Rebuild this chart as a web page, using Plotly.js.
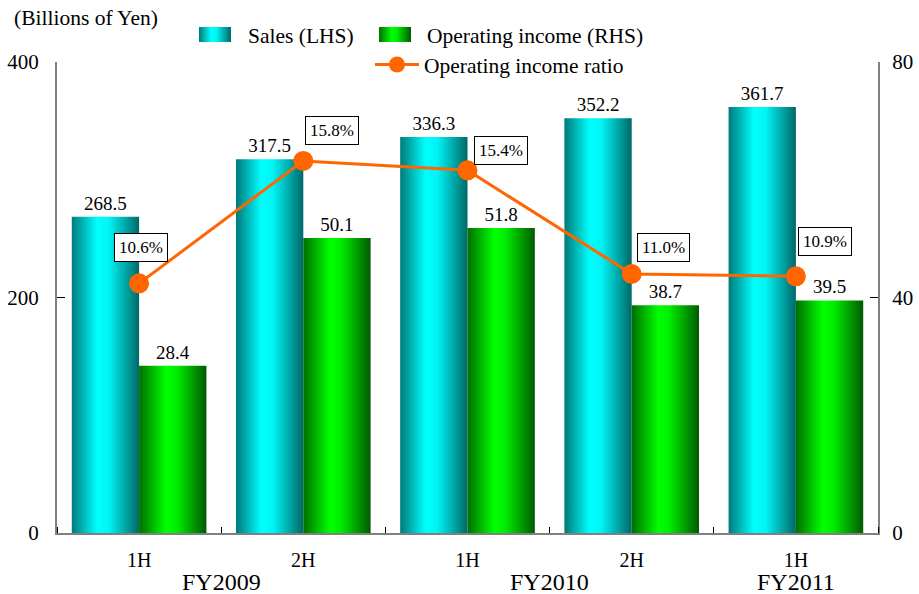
<!DOCTYPE html>
<html>
<head>
<meta charset="utf-8">
<script src="https://cdn.plot.ly/plotly-3.0.1.min.js"></script>
<style>
html,body{margin:0;padding:0;background:#fff;}
#chart{width:919px;height:594px;}
</style>
</head>
<body>
<div id="chart"></div>
<script>
// ---- data ----
const periods = ['1H', '2H', '1H', '2H', '1H'];
const fiscalYears = ['FY2009', 'FY2010', 'FY2011'];
const fiscalYearPos = [0.5, 2.5, 4];
const sales = [268.5, 317.5, 336.3, 352.2, 361.7];
const opIncome = [28.4, 50.1, 51.8, 38.7, 39.5];
const opRatio = [10.6, 15.8, 15.4, 11.0, 10.9];
const seriesNames = ['Sales (LHS)', 'Operating income (RHS)', 'Operating income ratio'];

// ---- style ----
const FONT = 'Liberation Serif, Times New Roman, serif';
const xIdx = periods.map((_, i) => i);
const boundaries = periods.map((_, i) => i - 0.5).concat([periods.length - 0.5]);
const labelOffsets = [[2, -36], [29, -30], [33, -20], [32, -26], [29, -35]];
const BW = 0.41;
const PL = 57, PR = 878, PT = 62, PB = 533;
const PW = PR - PL, PH = PB - PT;

const traces = [
  {
    type: 'bar', name: seriesNames[0], x: xIdx, y: sales,
    width: BW, offset: -BW, yaxis: 'y',
    marker: {color: '#00e0e0', line: {width: 0}},
    texttemplate: '%{y:.1f}', textposition: 'outside', constraintext: 'none',
    textfont: {family: FONT, size: 19, color: '#000'}, cliponaxis: false,
    legend: 'legend', hoverinfo: 'skip'
  },
  {
    type: 'bar', name: seriesNames[1], x: xIdx, y: opIncome,
    width: BW, offset: 0, yaxis: 'y2',
    marker: {color: '#00e000', line: {width: 0}},
    texttemplate: '%{y:.1f}', textposition: 'outside', constraintext: 'none',
    textfont: {family: FONT, size: 19, color: '#000'}, cliponaxis: false,
    legend: 'legend2', hoverinfo: 'skip'
  },
  {
    type: 'scatter', mode: 'lines+markers', name: seriesNames[2], x: xIdx, y: opRatio,
    yaxis: 'y3', line: {color: '#FF6600', width: 3},
    marker: {color: '#FF6600', size: 20},
    cliponaxis: false, legend: 'legend3', hoverinfo: 'skip'
  }
];

const annotations = opRatio.map((v, i) => ({
  x: xIdx[i], y: v, xref: 'x', yref: 'y3',
  text: v.toFixed(1) + '%', showarrow: true, arrowcolor: 'rgba(0,0,0,0)',
  ax: labelOffsets[i][0], ay: labelOffsets[i][1],
  font: {family: FONT, size: 17, color: '#000'},
  bgcolor: '#fff', bordercolor: '#000', borderwidth: 1, borderpad: 4
}));
fiscalYears.forEach((fy, i) => annotations.push({
  x: fiscalYearPos[i], xref: 'x', y: (PB - 582) / PH, yref: 'paper', yanchor: 'middle',
  text: fy, showarrow: false, font: {family: FONT, size: 24, color: '#000'}
}));
annotations.push({
  x: (12 - PL) / PW, xref: 'paper', y: (PB - 18) / PH, yref: 'paper', showarrow: false,
  text: '(Billions of Yen)', font: {family: FONT, size: 21.5, color: '#000'},
  xanchor: 'left', yanchor: 'middle'
});

const legendBase = {
  orientation: 'h', xref: 'container', yref: 'container',
  xanchor: 'left', yanchor: 'top', bgcolor: 'rgba(0,0,0,0)',
  font: {family: FONT, size: 21.5, color: '#000'}
};

const layout = {
  width: 919, height: 594,
  margin: {l: PL, r: 919 - PR, t: PT, b: 594 - PB, pad: 0, autoexpand: false},
  paper_bgcolor: '#fff', plot_bgcolor: '#fff',
  font: {family: FONT, size: 20, color: '#000'},
  barmode: 'overlay',
  xaxis: {
    range: [-0.5, periods.length - 0.5], tickvals: xIdx, ticktext: periods,
    ticks: '', showgrid: false, zeroline: false,
    showline: true, linecolor: '#808080', linewidth: 2,
    tickfont: {family: FONT, size: 20}, ticklabelstandoff: 8,
    minor: {tickvals: boundaries, ticks: 'inside', ticklen: 6, tickcolor: '#000', tickwidth: 1, showgrid: false},
    fixedrange: true
  },
  yaxis: {
    range: [0, 400], tickvals: [0, 200, 400], ticks: 'inside', ticklen: 8,
    tickcolor: '#000', tickwidth: 1, showgrid: false, zeroline: false,
    showline: true, linecolor: '#808080', linewidth: 2,
    tickfont: {family: FONT, size: 21}, ticklabelstandoff: 12, fixedrange: true
  },
  yaxis2: {
    range: [0, 80], tickvals: [0, 40, 80], ticks: 'inside', ticklen: 8,
    tickcolor: '#000', tickwidth: 1, showgrid: false, zeroline: false,
    showline: true, linecolor: '#808080', linewidth: 2,
    overlaying: 'y', side: 'right',
    tickfont: {family: FONT, size: 21}, ticklabelstandoff: 8, fixedrange: true
  },
  yaxis3: {range: [0, 20], overlaying: 'y', visible: false, fixedrange: true},
  legend: Object.assign({}, legendBase, {x: 208 / 919, y: 1 - 14 / 594, itemwidth: 30}),
  legend2: Object.assign({}, legendBase, {x: 387 / 919, y: 1 - 14 / 594, itemwidth: 30}),
  legend3: Object.assign({}, legendBase, {x: 370 / 919, y: 1 - 44 / 594, itemwidth: 44}),
  annotations: annotations,
  showlegend: true
};

function addGradient(defs, id, stops) {
  const ns = 'http://www.w3.org/2000/svg';
  if (defs.querySelector('#' + id)) return;
  const g = document.createElementNS(ns, 'linearGradient');
  g.setAttribute('id', id);
  g.setAttribute('x1', '0'); g.setAttribute('y1', '0');
  g.setAttribute('x2', '1'); g.setAttribute('y2', '0');
  stops.forEach(s => {
    const st = document.createElementNS(ns, 'stop');
    st.setAttribute('offset', s[0]);
    st.setAttribute('stop-color', s[1]);
    g.appendChild(st);
  });
  defs.appendChild(g);
}

function styleBars(gd) {
  const svg = gd.querySelector('svg.main-svg');
  let defs = svg.querySelector('defs');
  if (!defs) { defs = document.createElementNS('http://www.w3.org/2000/svg', 'defs'); svg.insertBefore(defs, svg.firstChild); }
  addGradient(defs, 'gradSales', [['0', '#007a7a'], ['0.38', '#00ffff'], ['0.55', '#00f4f4'], ['1', '#006868']]);
  addGradient(defs, 'gradIncome', [['0', '#006e00'], ['0.40', '#00ff00'], ['0.55', '#00f000'], ['1', '#005a00']]);
  const map = {};
  map[seriesNames[0]] = 'url(#gradSales)';
  map[seriesNames[1]] = 'url(#gradIncome)';
  const iconPath = {};
  iconPath[seriesNames[0]] = 'M-29,-7.5H3V7.5H-29Z';
  iconPath[seriesNames[1]] = 'M-28,-7.5H4V7.5H-28Z';
  gd.querySelectorAll('g.trace.bars').forEach(g => {
    const cd = g.__data__;
    const tr = cd && cd[0] && cd[0].trace;
    if (!tr || !map[tr.name]) return;
    g.querySelectorAll('g.point path').forEach(p => { p.style.fill = map[tr.name]; });
  });
  gd.querySelectorAll('g.infolayer > g').forEach(lg => {
    const cls = lg.getAttribute('class') || '';
    if (cls.indexOf('legend') !== 0) return;
    if (lg.hasAttribute('clip-path')) lg.removeAttribute('clip-path');
    lg.querySelectorAll('[clip-path]').forEach(e => e.removeAttribute('clip-path'));
  });
  gd.querySelectorAll('g.traces').forEach(g => {
    const cd = g.__data__;
    const tr = cd && cd[0] && cd[0].trace;
    if (!tr || !map[tr.name]) return;
    g.querySelectorAll('g.legendpoints path').forEach(p => {
      p.setAttribute('d', iconPath[tr.name]);
      p.style.fill = map[tr.name];
      p.style.stroke = 'none';
    });
  });
}

const gd = document.getElementById('chart');
Plotly.newPlot(gd, traces, layout, {staticPlot: true, displayModeBar: false}).then(() => {
  styleBars(gd);
  gd.on && gd.on('plotly_afterplot', () => styleBars(gd));
});
</script>
</body>
</html>
